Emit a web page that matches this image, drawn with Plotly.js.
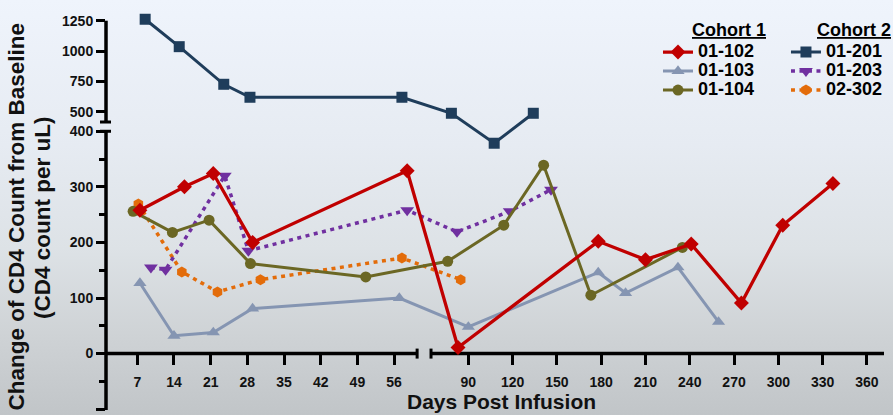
<!DOCTYPE html>
<html>
<head>
<meta charset="utf-8">
<script src="https://cdn.plot.ly/plotly-3.0.1.min.js"></script>
<style>
  html, body { margin: 0; padding: 0; }
  body {
    width: 893px; height: 415px; overflow: hidden;
    background: linear-gradient(to bottom, #eff4fc 0%, #e6ebf2 35%, #dde2e6 60%, #cfd3d6 80%, #c1c5c8 100%);
  }
  #chart { width: 893px; height: 415px; }
</style>
</head>
<body>
<div id="chart"></div>
<script>
// ---------------- data (days post infusion, change of CD4 count) ----------------
const days_01_102 = [7.5, 16, 21.5, 29, 58.5, 83, 178, 210, 241, 275, 303, 337];
const cd4_01_102  = [258, 300, 324, 200, 329, 11, 202, 169, 197, 91, 231, 306];

const days_01_103 = [7.5, 14, 21.5, 29, 57, 90, 178, 196.5, 232, 259.5];
const cd4_01_103  = [127, 32, 38, 81, 100, 48, 146, 109, 155, 57];

const days_01_104 = [6.2, 13.7, 20.7, 28.6, 50.6, 76, 114, 141, 173, 235];
const cd4_01_104  = [256, 218, 240, 162, 138, 166, 231, 339, 105, 191];

const days_01_201 = [8.5, 15, 23.5, 28.5, 57.5, 78.5, 107.5, 134];
const cd4_01_201  = [1262, 1036, 726, 619, 619, 487, 240, 487];

const days_01_203 = [9.6, 12.4, 23.7, 28.2, 58.5, 82.3, 118, 146];
const cd4_01_203  = [155, 151, 320, 185, 258, 219, 256, 295];

const days_02_302 = [7.2, 15.5, 22.3, 30.5, 57.5, 84.8];
const cd4_02_302  = [269, 147, 111, 133, 172, 133];

// ---------------- ticks ----------------
const xTickDays   = [7, 14, 21, 28, 35, 42, 49, 56, 90, 120, 150, 180, 210, 240, 270, 300, 330, 360];
const yLowerTicks = [-100, 0, 100, 200, 300, 400];
const yLowerMinor = [-50, 50, 150, 250, 350];
const yUpperTicks = [500, 750, 1000, 1250];

// ---------------- broken x scale (two linear segments) ----------------
const LEFT_MAX_DAY = 62;       // last day of the left (fine) segment
const POS_AT_90 = 70.18;       // axis position of day 90
const RIGHT_SCALE = 0.28166;   // compression of the right segment
function xpos(d) { return d <= LEFT_MAX_DAY ? d : POS_AT_90 + (d - 90) * RIGHT_SCALE; }
const xBreakDays = [60.4, 64.7];
const X_RANGE = [1.027, 149.5];
const Y_LOW_RANGE = [-101.5, 618.2];
const Y_UP_RANGE = [-1958.6, 1338.2];
const Y_UP_BOTTOM = 415;

const FONT = 'Liberation Sans, Arial, sans-serif';

function mk(name, days, vals, color, symbol, size, dash, width, yaxis, legend, rank) {
  return {
    type: 'scatter', mode: 'lines+markers',
    name: '<span style="font-size:18px">' + name + '</span>',
    x: days.map(xpos), y: vals,
    yaxis: yaxis, legend: legend, legendrank: rank,
    line: { color: color, width: width, dash: dash },
    marker: { color: color, symbol: symbol, size: size },
    cliponaxis: false, hoverinfo: 'skip'
  };
}

const data = [
  mk('01-103', days_01_103, cd4_01_103, '#8595b2', 'triangle-up', 11.5, 'solid', 3, 'y', 'legend', 2),
  mk('02-302', days_02_302, cd4_02_302, '#e36c0a', 'hexagon', 11, '4px,4.5px', 3.5, 'y', 'legend2', 3),
  mk('01-203', days_01_203, cd4_01_203, '#7030a0', 'triangle-down', 12, '4px,4.5px', 3.5, 'y', 'legend2', 2),
  mk('01-104', days_01_104, cd4_01_104, '#6b6724', 'circle', 11, 'solid', 3, 'y', 'legend', 3),
  mk('01-102', days_01_102, cd4_01_102, '#c00000', 'diamond', 11.5, 'solid', 3.3, 'y', 'legend', 1),
  mk('01-201', days_01_201, cd4_01_201, '#1f3d5b', 'square', 11, 'solid', 3, 'y2', 'legend2', 1)
];

const tickfont = { family: FONT, size: 14, weight: 700, color: '#111' };
const ax = { color: '#000', width: 3.5 };

const shapes = [
  // y axis: upper segment and lower segment
  { type: 'line', layer: 'below', xref: 'paper', x0: 0, x1: 0, yref: 'y2', y0: Y_UP_BOTTOM, y1: yUpperTicks[yUpperTicks.length - 1], line: ax },
  { type: 'line', layer: 'below', xref: 'paper', x0: 0, x1: 0, yref: 'y', y0: Y_LOW_RANGE[0], y1: yLowerTicks[yLowerTicks.length - 1], line: ax },
  // y break caps
  { type: 'line', layer: 'below', xref: 'paper', xsizemode: 'pixel', xanchor: 0, x0: -6, x1: 5, yref: 'y2', y0: Y_UP_BOTTOM, y1: Y_UP_BOTTOM, line: { color: '#000', width: 3 } },
  { type: 'line', layer: 'below', xref: 'paper', xsizemode: 'pixel', xanchor: 0, x0: -6, x1: 5, yref: 'y', y0: 400, y1: 400, line: { color: '#000', width: 3 } },
  // x axis at y = 0: left segment and right segment
  { type: 'line', layer: 'below', xref: 'x', x0: X_RANGE[0], x1: xpos(xBreakDays[0]), yref: 'y', y0: 0, y1: 0, line: ax },
  { type: 'line', layer: 'below', xref: 'x', x0: xpos(xBreakDays[1]), x1: X_RANGE[1], yref: 'y', y0: 0, y1: 0, line: ax },
  // x break caps
  { type: 'line', layer: 'below', xref: 'x', x0: xpos(xBreakDays[0]), x1: xpos(xBreakDays[0]), yref: 'y', ysizemode: 'pixel', yanchor: 0, y0: -5, y1: 5, line: { color: '#000', width: 3 } },
  { type: 'line', layer: 'below', xref: 'x', x0: xpos(xBreakDays[1]), x1: xpos(xBreakDays[1]), yref: 'y', ysizemode: 'pixel', yanchor: 0, y0: -5, y1: 5, line: { color: '#000', width: 3 } }
];

const annFont = { family: FONT, weight: 700, color: '#111' };
const annotations = [
  { text: 'Days Post Infusion', xref: 'paper', yref: 'paper', x: 0.5084, y: 0.021, xanchor: 'center', yanchor: 'middle', showarrow: false, font: Object.assign({}, annFont, { size: 21 }) },
  { text: 'Change of CD4 Count from Baseline', xref: 'paper', yref: 'paper', x: -0.1163, y: 0.4825, xanchor: 'center', yanchor: 'middle', textangle: -90, showarrow: false, font: Object.assign({}, annFont, { size: 22.5 }) },
  { text: '(CD4 count per uL)', xref: 'paper', yref: 'paper', x: -0.0823, y: 0.4825, xanchor: 'center', yanchor: 'middle', textangle: -90, showarrow: false, font: Object.assign({}, annFont, { size: 22.5 }) },
  { text: '<span style="text-decoration:underline">Cohort 1</span>', xref: 'paper', yref: 'paper', x: 0.8008, y: 0.9505, xanchor: 'center', yanchor: 'middle', showarrow: false, font: Object.assign({}, annFont, { size: 18, color: '#000' }) },
  { text: '<span style="text-decoration:underline">Cohort 2</span>', xref: 'paper', yref: 'paper', x: 0.9614, y: 0.9505, xanchor: 'center', yanchor: 'middle', showarrow: false, font: Object.assign({}, annFont, { size: 18, color: '#000' }) }
];

const legendBase = {
  xanchor: 'left', yanchor: 'top', y: 0.931,
  bgcolor: 'rgba(0,0,0,0)', borderwidth: 0, tracegroupgap: 0,
  font: { family: FONT, size: 11.54, weight: 700, color: '#000' }
};

const layout = {
  width: 893, height: 415,
  margin: { l: 106, r: 9, t: 10, b: 5, pad: 0, autoexpand: false },
  paper_bgcolor: 'rgba(0,0,0,0)', plot_bgcolor: 'rgba(0,0,0,0)',
  showlegend: true,
  xaxis: {
    range: X_RANGE, showline: false, zeroline: false, showgrid: false,
    anchor: 'free', position: (0 - Y_LOW_RANGE[0]) / (Y_LOW_RANGE[1] - Y_LOW_RANGE[0]),
    tickmode: 'array', tickvals: xTickDays.map(xpos), ticktext: xTickDays.map(String),
    ticks: 'outside', ticklen: 10, tickwidth: 3, tickcolor: '#000',
    ticklabelstandoff: 6, tickfont: tickfont
  },
  yaxis: {
    range: Y_LOW_RANGE, showline: false, zeroline: false, showgrid: false,
    tickmode: 'array', tickvals: yLowerTicks, ticktext: yLowerTicks.map(String),
    ticks: 'outside', ticklen: 9, tickwidth: 3, tickcolor: '#000', tickfont: tickfont,
    minor: { tickmode: 'array', tickvals: yLowerMinor, ticks: 'outside', ticklen: 6, tickwidth: 3, tickcolor: '#000', showgrid: false }
  },
  yaxis2: {
    range: Y_UP_RANGE, overlaying: 'y', side: 'left', anchor: 'x',
    showline: false, zeroline: false, showgrid: false,
    tickmode: 'array', tickvals: yUpperTicks, ticktext: yUpperTicks.map(String),
    ticks: 'outside', ticklen: 9, tickwidth: 3, tickcolor: '#000', tickfont: tickfont
  },
  legend: Object.assign({}, legendBase, { x: 0.7095 }),
  legend2: Object.assign({}, legendBase, { x: 0.874 }),
  shapes: shapes,
  annotations: annotations
};

Plotly.newPlot('chart', data, layout, { displayModeBar: false, staticPlot: true });
</script>
</body>
</html>
